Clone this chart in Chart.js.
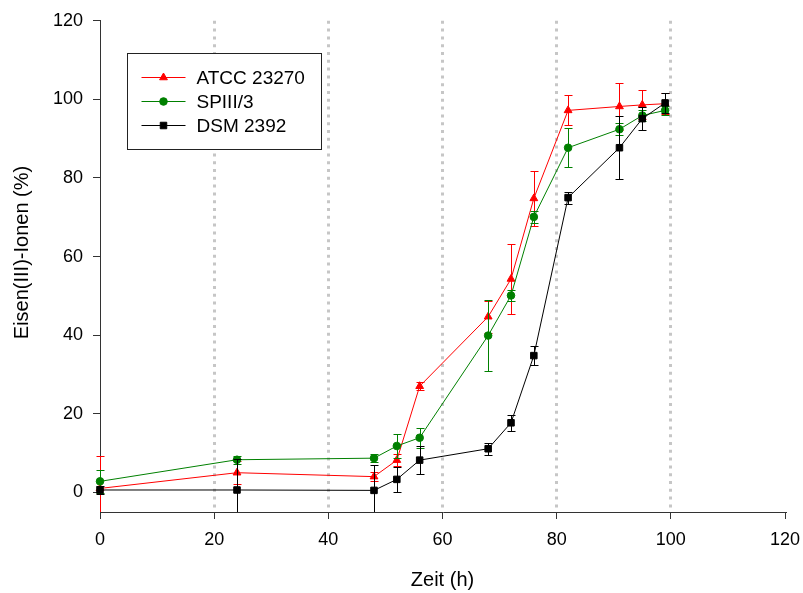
<!DOCTYPE html>
<html lang="de">
<head>
<meta charset="UTF-8">
<title>Eisen(III)-Ionen über Zeit</title>
<script src="https://cdn.jsdelivr.net/npm/chart.js"></script>
<style>
  body { margin: 0; background: #fff; }
  #wrap { width: 803px; height: 593px; }
</style>
</head>
<body>
<div id="wrap"><canvas id="chart" width="803" height="593"></canvas></div>
<script>
// sampling times (h)
const zeit = [0, 24, 48, 52, 56, 68, 72, 76, 82, 91, 95, 99];

// ATCC 23270
const atcc    = [1.0, 5.0, 4.0, 8.2, 27.0, 44.7, 54.3, 74.8, 97.2, 98.2, 98.6, 98.9];
const atccErr = [8.3, 3.0, 1.2, 1.5, 1.0, 4.1, 9.0, 7.0, 3.8, 5.9, 3.7, 2.7];

// SPIII/3
const spiii    = [2.8, 8.3, 8.7, 11.8, 13.9, 39.9, 50.1, 70.1, 87.7, 92.4, 95.9, 97.2];
const spiiiErr = [3.0, 1.0, 1.0, 3.0, 2.5, 9.0, 1.5, 1.5, 5.0, 1.5, 1.5, 1.2];

// DSM 2392
const dsm    = [0.6, 0.6, 0.5, 3.3, 8.2, 11.1, 17.7, 34.8, 75.0, 87.7, 95.1, 99.1];
const dsmErr = [1.0, 8.0, 6.5, 3.2, 3.6, 1.5, 2.0, 2.5, 1.5, 8.0, 3.0, 2.5];

const xTicks = [0, 20, 40, 60, 80, 100, 120];
const yTicks = [0, 20, 40, 60, 80, 100, 120];

const FONT = '"Liberation Sans", Arial, Helvetica, sans-serif';
Chart.defaults.font.family = FONT;
Chart.defaults.color = '#000';

function pts(vals) {
  return vals.map((v, i) => ({ x: zeit[i], y: v }));
}

// vertical error bars, drawn under each dataset's markers
const errorBars = {
  id: 'errorBars',
  beforeDatasetDraw(chart, args) {
    const ds = chart.data.datasets[args.index];
    if (!ds.errors) return;
    const { ctx, chartArea, scales: { x, y } } = chart;
    ctx.save();
    ctx.beginPath();
    ctx.rect(chartArea.left - 10, chartArea.top - 10, chartArea.right - chartArea.left + 20, chartArea.bottom - chartArea.top + 10);
    ctx.clip();
    ctx.strokeStyle = ds.borderColor;
    ctx.lineWidth = 1;
    ds.data.forEach((p, i) => {
      const e = ds.errors[i];
      const px = Math.round(x.getPixelForValue(p.x)) + 0.5;
      const top = Math.round(y.getPixelForValue(p.y + e)) + 0.5;
      const bot = Math.round(y.getPixelForValue(p.y - e)) + 0.5;
      ctx.beginPath();
      ctx.moveTo(px, top); ctx.lineTo(px, bot);
      ctx.moveTo(px - 4, top); ctx.lineTo(px + 4, top);
      ctx.moveTo(px - 4, bot); ctx.lineTo(px + 4, bot);
      ctx.stroke();
    });
    ctx.restore();
  }
};

// boxed legend inside the plot
const boxLegend = {
  id: 'boxLegend',
  afterDatasetsDraw(chart) {
    const { ctx, chartArea } = chart;
    const left = Math.round(chartArea.left) + 27.5;
    const top = Math.round(chartArea.top) + 32.5;
    const w = 194, h = 96;
    ctx.save();
    ctx.fillStyle = '#fff';
    ctx.fillRect(left, top, w, h);
    ctx.strokeStyle = '#222';
    ctx.lineWidth = 1;
    ctx.strokeRect(left, top, w, h);
    ctx.font = '19px ' + FONT;
    ctx.textBaseline = 'middle';
    ctx.textAlign = 'left';
    chart.data.datasets.forEach((ds, i) => {
      const ry = Math.round(top + 23 + i * 24) + 0.5;
      ctx.strokeStyle = ds.borderColor;
      ctx.lineWidth = 1;
      ctx.beginPath();
      ctx.moveTo(left + 14, ry);
      ctx.lineTo(left + 58, ry);
      ctx.stroke();
      ctx.fillStyle = ds.borderColor;
      Chart.helpers.drawPoint(ctx, {
        pointStyle: ds.pointStyle,
        radius: ds.pointRadius,
        rotation: 0,
        borderWidth: 1
      }, left + 36, ry);
      ctx.fillStyle = '#000';
      ctx.fillText(ds.label, left + 69, ry + 1);
    });
    ctx.restore();
  }
};

new Chart(document.getElementById('chart'), {
  type: 'line',
  data: {
    datasets: [
      {
        label: 'ATCC 23270', data: pts(atcc), errors: atccErr,
        borderColor: '#ff0000', backgroundColor: '#ff0000',
        pointStyle: 'triangle', pointRadius: 4.5, order: 3
      },
      {
        label: 'SPIII/3', data: pts(spiii), errors: spiiiErr,
        borderColor: '#008000', backgroundColor: '#008000',
        pointStyle: 'circle', pointRadius: 3.8, order: 2
      },
      {
        label: 'DSM 2392', data: pts(dsm), errors: dsmErr,
        borderColor: '#000000', backgroundColor: '#000000',
        pointStyle: 'rect', pointRadius: 4.6, order: 1
      }
    ].map(d => Object.assign(d, {
      borderWidth: 1,
      pointBorderWidth: 1,
      pointBorderColor: d.borderColor,
      pointBackgroundColor: d.borderColor,
      tension: 0,
      fill: false,
      clip: false
    }))
  },
  options: {
    responsive: false,
    animation: false,
    devicePixelRatio: 1,
    layout: { padding: { left: 0, top: 20, right: 18, bottom: 0 } },
    plugins: {
      legend: { display: false },
      tooltip: { enabled: false }
    },
    scales: {
      x: {
        type: 'linear',
        min: 0,
        max: 120,
        afterBuildTicks: s => { s.ticks = xTicks.map(v => ({ value: v })); },
        afterFit: s => { s.height = 81; s.paddingLeft = 0; s.paddingRight = 0; },
        ticks: { font: { size: 18 }, padding: 10, maxRotation: 0 },
        grid: {
          drawOnChartArea: true,
          color: c => (c.tick && c.tick.value > 0 && c.tick.value < 120) ? '#c6c6c6' : 'rgba(0,0,0,0)',
          lineWidth: 3,
          tickColor: '#333',
          tickWidth: 1,
          tickLength: 7,
          tickBorderDash: []
        },
        border: { display: true, color: '#333', width: 1, dash: [3, 4.8] },
        title: {
          display: true, text: 'Zeit (h)',
          font: { size: 20 }, padding: { top: 0, bottom: 1 }
        }
      },
      y: {
        type: 'linear',
        min: -5,
        max: 120,
        afterBuildTicks: s => { s.ticks = yTicks.map(v => ({ value: v })); },
        afterFit: s => { s.width = 100; },
        ticks: { font: { size: 18 }, padding: 10 },
        grid: {
          drawOnChartArea: false,
          tickColor: '#333',
          tickWidth: 1,
          tickLength: 7
        },
        border: { display: true, color: '#333', width: 1 },
        title: {
          display: true, text: '     Eisen(III)-Ionen (%)',
          font: { size: 20 }, padding: { top: 10, bottom: 0 }
        }
      }
    }
  },
  plugins: [errorBars, boxLegend]
});
</script>
</body>
</html>
